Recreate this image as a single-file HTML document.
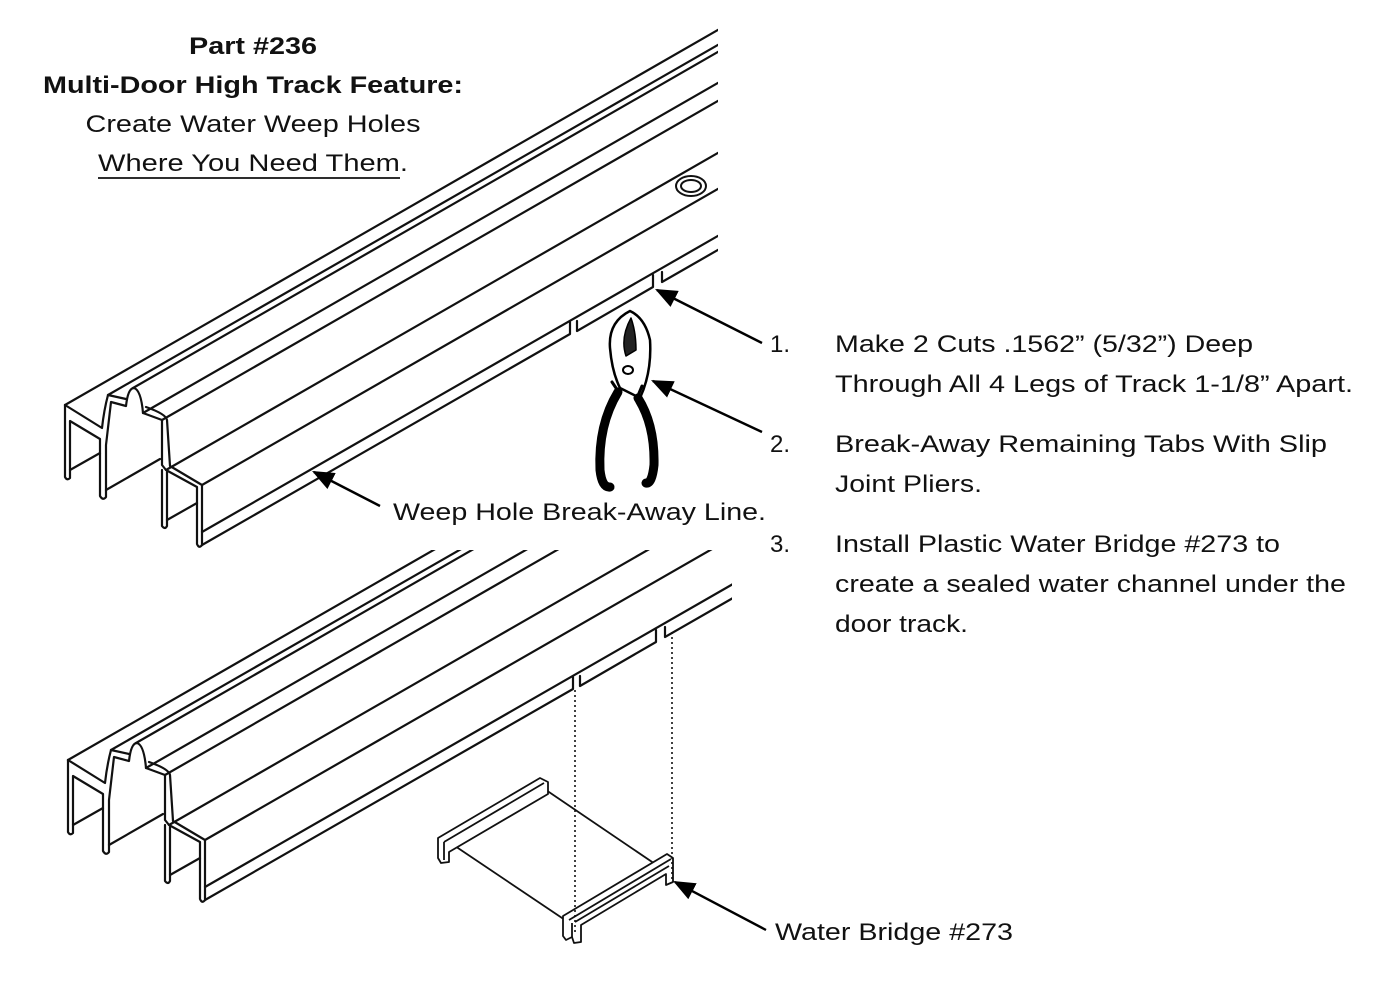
<!DOCTYPE html>
<html><head><meta charset="utf-8"><style>
html,body{margin:0;padding:0;background:#fff;}
svg{display:block;}
text{font-family:"Liberation Sans",Arial,sans-serif;fill:#111;}
</style></head><body>
<svg width="1379" height="1000" viewBox="0 0 1379 1000" xmlns="http://www.w3.org/2000/svg">
<defs>
<clipPath id="ct"><rect x="0" y="0" width="718" height="1000"/></clipPath>
<clipPath id="cb"><rect x="0" y="550" width="732" height="450"/></clipPath>
<marker id="ah" viewBox="0 0 10 10" refX="9" refY="5" markerWidth="22" markerHeight="18" orient="auto-start-reverse" markerUnits="userSpaceOnUse" preserveAspectRatio="none">
<path d="M0,0 L10,5 L0,10 z" fill="#000"/></marker>
<g id="track" fill="none" stroke="#111" stroke-width="2.2" stroke-linejoin="round" stroke-linecap="round">
<line x1="65" y1="405" x2="730" y2="23"/>
<line x1="108" y1="395" x2="730" y2="38"/>
<line x1="133" y1="388" x2="730" y2="45"/>
<line x1="143" y1="413" x2="730" y2="76"/>
<line x1="162" y1="420" x2="730" y2="94"/>
<line x1="166" y1="470" x2="730" y2="146"/>
<line x1="202" y1="485" x2="730" y2="182"/>
<line x1="202" y1="532" x2="730" y2="229"/>
<path d="M202,545 L570,334 L570,322 M577,331 L577,321 M577,331 L653,287 L653,275 M662,282 L662,272 M662,282 L730,243"/>
<line x1="70" y1="470" x2="100" y2="453"/>
<line x1="106" y1="490" x2="160" y2="459"/>
<line x1="167" y1="520" x2="197" y2="503"/>
<path d="M65,405 L65,477 Q67,481 70,478 L70,421 L100,439 L100,496 Q103,501 106,497 L106,445 Q109,420 111,402 L126,406 Q128,388 134,388 Q141,390 143,413 L162,420 L162,465 L166,470 L197,487 L197,544 Q199,549 202,545 L202,485 L170,466 L167,420 Q166,414 146,407"/>
<path d="M65,405 L102,428 Q104,410 108,395 L126,399"/>
<path d="M162,470 L162,526 Q165,530 167,526 L167,472"/>
</g>
</defs>

<g clip-path="url(#ct)"><use href="#track"/></g>
<g clip-path="url(#cb)"><use href="#track" transform="translate(3,355)"/></g>

<ellipse cx="691" cy="186" rx="15" ry="10" fill="none" stroke="#111" stroke-width="2"/>
<ellipse cx="691" cy="186" rx="10" ry="6" fill="none" stroke="#111" stroke-width="2"/>

<!-- pliers -->
<g stroke="#000" stroke-linecap="round" stroke-linejoin="round">
<path d="M630,311 Q608,322 610,348 Q612,372 620,388 L640,398 Q652,372 650,340 Q645,318 630,311 Z" fill="#fff" stroke-width="2.5"/>
<path d="M631,318 Q620,338 626,356 L636,350 Q636,332 631,318 Z" fill="#222" stroke-width="1.5"/>
<ellipse cx="628" cy="370" rx="5" ry="4" fill="#fff" stroke-width="2"/>
<path d="M618,392 Q598,425 600,470 Q602,488 610,487" fill="none" stroke-width="9"/>
<path d="M638,398 Q655,425 654,465 Q652,484 646,483" fill="none" stroke-width="9"/>
<path d="M612,382 L620,394 M642,386 L637,398" fill="none" stroke-width="3"/>
</g>

<!-- water bridge -->
<g fill="#fff" stroke="#111" stroke-width="1.8" stroke-linejoin="round">
<path d="M449,842 L546,790 L661,868 L568,922 Z"/>
<path d="M438,838 L540,778 L548,782 L548,794 L449,852 L449,862 L441,863 L438,858 Z"/>
<path d="M444,842 L544,783 M444,842 L444,860"/>
<path d="M563,916 L667,854 L673,858 L673,882 L666,885 L666,874 L581,925 L581,942 L574,943 L572,937 L566,940 L563,936 Z"/>
<path d="M569,920 L671,859 M572,923 L572,937 M575,922 L669,866"/>
</g>
<g stroke="#111" stroke-width="1.6" stroke-dasharray="2,3" fill="none">
<line x1="575" y1="690" x2="575" y2="935"/>
<line x1="672" y1="632" x2="672" y2="880"/>
</g>

<g stroke="#000" stroke-width="2.4" fill="none">
<line x1="762" y1="343" x2="657" y2="290" marker-end="url(#ah)"/>
<line x1="762" y1="432" x2="653" y2="381" marker-end="url(#ah)"/>
<line x1="380" y1="506" x2="314" y2="472" marker-end="url(#ah)"/>
<line x1="766" y1="930" x2="675" y2="882" marker-end="url(#ah)"/>
</g>

<g font-size="24" text-anchor="middle">
<text x="253" y="54" font-weight="bold" textLength="128" lengthAdjust="spacingAndGlyphs">Part #236</text>
<text x="253" y="93" font-weight="bold" textLength="420" lengthAdjust="spacingAndGlyphs">Multi-Door High Track Feature:</text>
<text x="253" y="132" textLength="335" lengthAdjust="spacingAndGlyphs">Create Water Weep Holes</text>
<text x="253" y="171" textLength="310" lengthAdjust="spacingAndGlyphs">Where You Need Them.</text>
</g>
<line x1="98" y1="178" x2="400" y2="178" stroke="#111" stroke-width="1.8"/>

<g font-size="24">
<text x="770" y="352">1.</text>
<text x="835" y="352" textLength="418" lengthAdjust="spacingAndGlyphs">Make 2 Cuts .1562” (5/32”) Deep</text>
<text x="835" y="392" textLength="518" lengthAdjust="spacingAndGlyphs">Through All 4 Legs of Track 1-1/8” Apart.</text>
<text x="770" y="452">2.</text>
<text x="835" y="452" textLength="492" lengthAdjust="spacingAndGlyphs">Break-Away Remaining Tabs With Slip</text>
<text x="835" y="492" textLength="147" lengthAdjust="spacingAndGlyphs">Joint Pliers.</text>
<text x="770" y="552">3.</text>
<text x="835" y="552" textLength="445" lengthAdjust="spacingAndGlyphs">Install Plastic Water Bridge #273 to</text>
<text x="835" y="592" textLength="511" lengthAdjust="spacingAndGlyphs">create a sealed water channel under the</text>
<text x="835" y="632" textLength="133" lengthAdjust="spacingAndGlyphs">door track.</text>
<text x="393" y="520" textLength="373" lengthAdjust="spacingAndGlyphs">Weep Hole Break-Away Line.</text>
<text x="775" y="940" textLength="238" lengthAdjust="spacingAndGlyphs">Water Bridge #273</text>
</g>
</svg>
</body></html>
